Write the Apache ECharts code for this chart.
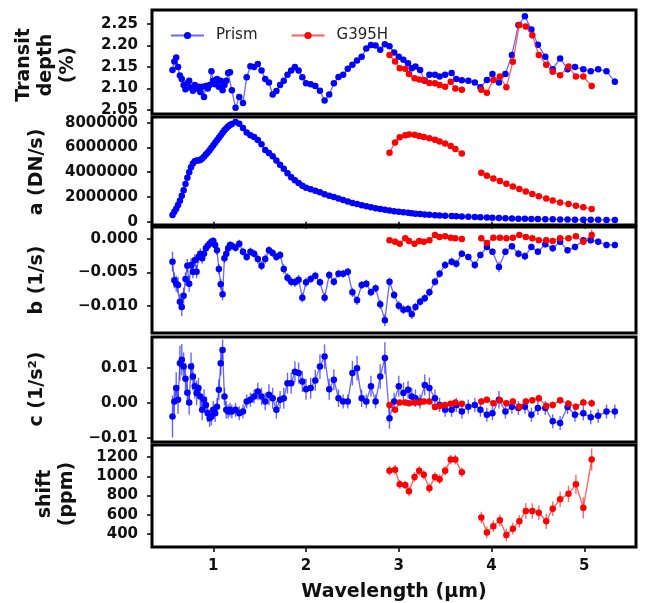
<!DOCTYPE html>
<html>
<head>
<meta charset="utf-8">
<script src="https://cdn.jsdelivr.net/npm/echarts@6/dist/echarts.min.js"></script>
<style>
  html, body { margin: 0; padding: 0; background: #fff; }
  #chart { width: 659px; height: 603px; }
</style>
</head>
<body>
<div id="chart"></div>
<script>
// ---- Prism (NIRSpec) spectrum, wavelength in µm ----
const wavePrism = [
  0.56,0.58,0.60,0.62,0.64,0.66,0.68,0.70,0.72,0.74,0.76,0.78,0.80,0.82,0.84,0.86,0.88,0.90,0.92,0.94,0.96,0.98,1.00,1.02,1.04,1.06,1.08,1.10,1.12,1.14,1.16,1.18,1.20,
  1.24,1.28,1.32,1.36,1.40,1.44,1.48,1.52,1.56,1.60,1.64,1.68,1.72,1.76,1.80,1.84,1.88,1.92,1.96,2.00,
  2.05,2.10,2.15,2.20,2.25,2.30,2.35,2.40,2.45,2.50,2.55,2.60,2.65,2.70,2.75,2.80,2.85,2.90,2.95,3.00,
  3.05,3.10,3.14,3.18,3.23,3.28,3.33,3.39,3.44,3.50,3.57,3.62,3.68,3.75,3.82,3.88,3.95,
  4.01,4.08,4.15,4.22,4.29,4.36,4.43,4.50,4.58,4.66,4.74,4.82,4.90,4.99,5.07,5.15,5.24,5.33
];
// transit depth (%)
const depthPrism = [
  2.143,2.163,2.172,2.150,2.130,2.122,2.108,2.098,2.112,2.118,2.102,2.095,2.108,2.100,2.104,2.092,2.104,2.080,2.106,2.100,2.108,2.140,2.118,2.110,2.122,2.104,2.118,2.096,2.108,2.118,2.136,2.138,2.096,
  2.055,2.080,2.066,2.126,2.152,2.150,2.157,2.142,2.122,2.114,2.086,2.094,2.108,2.118,2.132,2.142,2.150,2.142,2.126,2.112,
  2.110,2.106,2.095,2.072,2.086,2.112,2.127,2.132,2.146,2.155,2.165,2.174,2.193,2.201,2.200,2.190,2.203,2.198,2.184,2.174,
  2.167,2.159,2.147,2.151,2.143,2.118,2.132,2.132,2.128,2.132,2.136,2.122,2.119,2.118,2.114,2.103,2.120,
  2.134,2.114,2.134,2.178,2.248,2.268,2.237,2.202,2.174,2.145,2.170,2.145,2.150,2.145,2.140,2.145,2.140,2.116
];
const depthPrismErr = [
  0.004,0.004,0.004,0.004,0.004,0.004,0.004,0.004,0.004,0.004,0.004,0.004,0.004,0.004,0.004,0.004,0.004,0.004,0.004,0.004,0.004,0.004,0.004,0.004,0.004,0.004,0.004,0.004,0.004,0.004,0.004,0.004,0.004,
  0.003,0.003,0.003,0.003,0.003,0.003,0.003,0.003,0.003,0.003,0.003,0.003,0.003,0.003,0.003,0.003,0.003,0.003,0.003,0.003,
  0.003,0.003,0.003,0.003,0.003,0.003,0.003,0.003,0.003,0.003,0.003,0.003,0.003,0.003,0.003,0.003,0.003,0.003,0.003,0.003,
  0.003,0.003,0.003,0.003,0.003,0.003,0.003,0.003,0.003,0.003,0.003,0.003,0.003,0.003,0.003,0.003,0.004,
  0.004,0.004,0.004,0.004,0.004,0.004,0.004,0.004,0.004,0.004,0.004,0.005,0.005,0.005,0.005,0.006,0.006,0.008
];
// a coefficient (DN/s)
const aPrism = [
  550000,800000,1050000,1350000,1700000,2100000,2550000,3050000,3550000,4000000,4400000,4700000,4880000,4950000,4950000,4980000,5100000,5250000,5420000,5600000,5780000,5980000,6180000,6380000,6580000,6780000,6980000,7180000,7380000,7550000,7700000,7820000,7900000,
  8050000,7920000,7580000,7200000,6980000,6850000,6600000,6250000,5800000,5550000,5280000,4950000,4600000,4280000,3920000,3600000,3350000,3120000,2900000,2750000,
  2620000,2500000,2380000,2220000,2100000,2000000,1880000,1750000,1640000,1520000,1420000,1330000,1240000,1160000,1080000,1020000,960000,900000,850000,800000,
  760000,720000,680000,650000,620000,590000,560000,530000,500000,480000,460000,440000,420000,400000,370000,350000,330000,
  310000,290000,270000,260000,240000,230000,220000,210000,200000,190000,180000,170000,165000,160000,155000,150000,145000,140000
];
// b coefficient (1/s)
const bPrism = [
  -0.0034,-0.0062,-0.0067,-0.0069,-0.0094,-0.0102,-0.0085,-0.0060,-0.0040,-0.0067,-0.0039,-0.0049,-0.0032,-0.0049,-0.0027,-0.0022,-0.0029,-0.0022,-0.0014,-0.0010,-0.0007,-0.0004,-0.0003,-0.0009,-0.0017,-0.0045,-0.0068,-0.0083,-0.0029,-0.0022,-0.0014,-0.0009,-0.0010,
  -0.0013,-0.0007,-0.0019,-0.0027,-0.0019,-0.0022,-0.0030,-0.0040,-0.0030,-0.0017,-0.0021,-0.0027,-0.0024,-0.0045,-0.0058,-0.0064,-0.0065,-0.0061,-0.0088,-0.0065,
  -0.0060,-0.0055,-0.0065,-0.0088,-0.0054,-0.0064,-0.0052,-0.0052,-0.0049,-0.0080,-0.0092,-0.0069,-0.0067,-0.0080,-0.0074,-0.0098,-0.0122,-0.0064,-0.0084,-0.0100,
  -0.0106,-0.0105,-0.0113,-0.0102,-0.0094,-0.0089,-0.0080,-0.0064,-0.0052,-0.0039,-0.0034,-0.0037,-0.0022,-0.0027,-0.0039,-0.0024,-0.0012,
  -0.0019,-0.0042,-0.0019,-0.0011,-0.0022,-0.0026,-0.0012,-0.0019,-0.0008,-0.0014,-0.0004,-0.0017,-0.0012,-0.0002,-0.0002,-0.0004,-0.0009,-0.0009
];
const bPrismErr = [
  0.0015,0.0012,0.0012,0.0012,0.0012,0.0014,0.0012,0.0010,0.0010,0.0012,0.0010,0.0010,0.0009,0.0010,0.0009,0.0008,0.0008,0.0008,0.0007,0.0007,0.0006,0.0006,0.0006,0.0006,0.0007,0.0008,0.0008,0.0009,0.0007,0.0006,0.0006,0.0006,0.0006,
  0.0006,0.0006,0.0006,0.0006,0.0006,0.0006,0.0007,0.0007,0.0007,0.0006,0.0006,0.0006,0.0006,0.0007,0.0007,0.0007,0.0007,0.0007,0.0007,0.0007,
  0.0006,0.0006,0.0006,0.0007,0.0006,0.0006,0.0006,0.0006,0.0006,0.0007,0.0007,0.0006,0.0006,0.0006,0.0006,0.0007,0.0009,0.0006,0.0006,0.0007,
  0.0007,0.0006,0.0007,0.0006,0.0006,0.0006,0.0006,0.0006,0.0006,0.0006,0.0006,0.0006,0.0005,0.0005,0.0006,0.0005,0.0005,
  0.0005,0.0008,0.0005,0.0005,0.0006,0.0006,0.0005,0.0005,0.0005,0.0005,0.0005,0.0005,0.0005,0.0005,0.0005,0.0005,0.0005,0.0005
];
// c coefficient (1/s^2)
const cPrism = [
  -0.0038,0.0005,0.0043,0.0010,0.0114,0.0124,0.0105,0.0070,0.0030,0.0002,0.0105,0.0076,0.0048,0.0029,0.0043,0.0019,-0.0019,0.0010,-0.0005,-0.0029,-0.0043,-0.0038,-0.0019,-0.0029,-0.0010,0.0038,0.0114,0.0152,0.0019,-0.0019,-0.0024,-0.0019,-0.0024,
  -0.0019,-0.0029,-0.0024,0.0005,0.0010,0.0019,0.0033,0.0019,0.0005,0.0024,0.0014,-0.0019,0.0010,0.0014,0.0057,0.0057,0.0090,0.0086,0.0062,0.0040,
  0.0043,0.0065,0.0105,0.0133,0.0040,0.0067,0.0014,0.0005,0.0005,0.0086,0.0100,0.0014,0.0005,0.0048,0.0005,0.0076,0.0129,-0.0043,0.0005,0.0048,
  0.0029,0.0038,0.0019,0.0014,0.0005,0.0052,0.0043,0.0014,-0.0005,-0.0019,-0.0019,-0.0005,-0.0024,-0.0010,-0.0005,-0.0019,-0.0033,
  -0.0029,0.0010,-0.0024,-0.0010,-0.0014,-0.0010,-0.0033,-0.0014,-0.0014,-0.0052,-0.0057,-0.0011,-0.0033,-0.0029,-0.0040,-0.0036,-0.0024,-0.0024
];
const cPrismErr = [
  0.0060,0.0040,0.0045,0.0040,0.0050,0.0045,0.0040,0.0045,0.0035,0.0035,0.0040,0.0040,0.0035,0.0035,0.0030,0.0030,0.0030,0.0030,0.0025,0.0025,0.0025,0.0025,0.0025,0.0025,0.0025,0.0030,0.0035,0.0030,0.0025,0.0025,0.0020,0.0020,0.0020,
  0.0020,0.0020,0.0020,0.0020,0.0020,0.0020,0.0025,0.0025,0.0025,0.0030,0.0030,0.0025,0.0025,0.0030,0.0030,0.0030,0.0030,0.0030,0.0030,0.0030,
  0.0030,0.0030,0.0035,0.0035,0.0030,0.0030,0.0025,0.0020,0.0020,0.0035,0.0035,0.0025,0.0020,0.0030,0.0020,0.0035,0.0045,0.0030,0.0025,0.0030,
  0.0030,0.0025,0.0025,0.0025,0.0020,0.0030,0.0030,0.0025,0.0020,0.0020,0.0020,0.0020,0.0020,0.0020,0.0020,0.0020,0.0020,
  0.0020,0.0025,0.0020,0.0020,0.0020,0.0020,0.0020,0.0020,0.0020,0.0020,0.0020,0.0020,0.0020,0.0020,0.0020,0.0020,0.0020,0.0020
];

// ---- G395H spectrum: NRS1 (first 15 points) then NRS2 ----
const nrs1Count = 15;
const waveG395H = [
  2.90,2.96,3.01,3.07,3.11,3.17,3.22,3.27,3.33,3.39,3.44,3.50,3.56,3.61,3.68,
  3.89,3.95,4.02,4.09,4.16,4.23,4.30,4.37,4.44,4.51,4.59,4.66,4.74,4.83,4.91,4.99,5.08
];
const depthG395H = [
  2.178,2.163,2.147,2.146,2.134,2.124,2.121,2.119,2.113,2.112,2.108,2.104,2.116,2.100,2.097,
  2.097,2.090,2.120,2.128,2.103,2.162,2.248,2.244,2.224,2.178,2.155,2.139,2.131,2.151,2.128,2.128,2.106
];
const depthG395HErr = [
  0.003,0.003,0.003,0.003,0.003,0.003,0.003,0.003,0.003,0.003,0.003,0.003,0.003,0.003,0.003,
  0.003,0.003,0.003,0.003,0.003,0.003,0.003,0.003,0.003,0.003,0.003,0.003,0.003,0.003,0.003,0.003,0.003
];
const aG395H = [
  5580000,6400000,6820000,6980000,7050000,7030000,6920000,6850000,6750000,6620000,6480000,6320000,6120000,5880000,5520000,
  3960000,3720000,3500000,3280000,3060000,2840000,2640000,2440000,2240000,2060000,1880000,1720000,1560000,1420000,1280000,1160000,1030000
];
const bG395H = [
  -0.0002,-0.0004,-0.0007,0.0001,-0.0003,-0.0007,-0.0003,-0.0004,-0.0002,0.0006,0.0003,0.0004,0.0002,0.0001,0.0000,
  0.0001,-0.0006,0.0002,0.0002,0.0001,0.0002,0.0006,0.0003,0.0001,-0.0002,-0.0002,-0.0003,0.0001,0.0001,0.0004,-0.0004,0.0006
];
const bG395HErr = [
  0.0003,0.0003,0.0003,0.0003,0.0003,0.0003,0.0003,0.0003,0.0003,0.0003,0.0003,0.0003,0.0003,0.0003,0.0003,
  0.0003,0.0003,0.0003,0.0003,0.0003,0.0003,0.0003,0.0003,0.0003,0.0003,0.0003,0.0003,0.0003,0.0004,0.0004,0.0005,0.0008
];
const cG395H = [
  -0.0005,-0.0019,0.0002,0.0002,0.0000,0.0002,0.0002,0.0005,0.0005,-0.0011,-0.0008,-0.0005,-0.0002,0.0002,-0.0002,
  0.0005,0.0010,0.0000,0.0008,0.0000,0.0005,-0.0010,0.0005,0.0008,0.0014,-0.0008,-0.0005,0.0008,-0.0002,-0.0010,0.0002,0.0000
];
const cG395HErr = [
  0.0008,0.0008,0.0008,0.0008,0.0008,0.0008,0.0008,0.0008,0.0008,0.0008,0.0008,0.0008,0.0008,0.0008,0.0008,
  0.0009,0.0009,0.0009,0.0009,0.0009,0.0009,0.0009,0.0009,0.0009,0.0010,0.0010,0.0010,0.0010,0.0010,0.0010,0.0011,0.0011
];
// spectral shift (ppm)
const shiftG395H = [
  1058,1068,917,910,844,993,1058,1016,877,993,970,1058,1174,1174,1042,
  571,417,482,542,390,456,532,640,640,621,532,663,762,818,917,673,1174
];
const shiftG395HErr = [
  50,50,45,45,50,50,50,50,50,50,50,50,50,50,50,
  60,60,60,60,65,60,65,80,80,75,80,75,80,85,100,110,115
];

// ---- axis ticks ----
const xTicks = [1, 2, 3, 4, 5];
const depthTicks = [2.05, 2.10, 2.15, 2.20, 2.25];
const aTicks = [0, 2000000, 4000000, 6000000, 8000000];
const bTicks = [-0.010, -0.005, 0.000];
const cTicks = [-0.01, 0.00, 0.01];
const shiftTicks = [400, 600, 800, 1000, 1200];

const BLUE = '#0000ff';
const RED = '#ff0000';
const FONT = '"DejaVu Sans", Verdana, sans-serif';

const minus = (s) => s.replace('-', '\u2212');

const panels = [
  { top: 10,  height: 104, min: 2.0407, max: 2.2826, ticks: depthTicks, fmt: v => v.toFixed(2) },
  { top: 117, height: 108, min: -267000, max: 8460000, ticks: aTicks, fmt: v => String(Math.round(v)) },
  { top: 227, height: 106, min: -0.0141, max: 0.0018, ticks: bTicks, fmt: v => (Math.abs(v) < 1e-9 ? '0.000' : minus(v.toFixed(3))) },
  { top: 337, height: 105, min: -0.0111, max: 0.0189, ticks: cTicks, fmt: v => (Math.abs(v) < 1e-9 ? '0.00' : minus(v.toFixed(2))) },
  { top: 445, height: 107, min: 265, max: 1326, ticks: shiftTicks, fmt: v => String(Math.round(v)) }
];

const grids = panels.map(p => ({
  left: 152, width: 484, top: p.top, height: p.height,
  show: true, borderColor: '#000', borderWidth: 3, backgroundColor: 'transparent'
}));

const xAxes = panels.map((p, i) => ({
  type: 'value', gridIndex: i, min: 0.339, max: 5.558,
  axisLine: { show: false },
  splitLine: { show: false },
  axisTick: {
    show: i === 1 || i === 4, inside: false, length: i === 1 ? 7 : 5,
    customValues: xTicks, lineStyle: { color: '#000', width: 1.5 }
  },
  axisLabel: {
    show: i === 4, customValues: xTicks, margin: 12,
    color: '#111', fontFamily: FONT, fontWeight: 'bold', fontSize: 15,
    formatter: v => String(Math.round(v))
  },
  name: i === 4 ? 'Wavelength (µm)' : '',
  nameLocation: 'middle', nameGap: 36,
  nameTextStyle: { color: '#111', fontFamily: FONT, fontWeight: 'bold', fontSize: 19 }
}));

const yAxes = panels.map((p, i) => ({
  type: 'value', gridIndex: i, min: p.min, max: p.max,
  axisLine: { show: false },
  splitLine: { show: false },
  axisTick: { show: true, inside: false, length: 5, customValues: p.ticks, lineStyle: { color: '#000', width: 1.5 } },
  axisLabel: {
    customValues: p.ticks, margin: 14,
    color: '#111', fontFamily: FONT, fontWeight: 'bold', fontSize: 15,
    formatter: p.fmt
  }
}));

// points joined by a line; a gap is left between the two G395H detectors
function lineSeries(name, xs, ys, color, lineColor, gi, z, breakAt) {
  const data = [];
  xs.forEach((x, k) => {
    if (breakAt && k === breakAt) data.push([(xs[k - 1] + x) / 2, '-']);
    data.push([x, ys[k]]);
  });
  return {
    type: 'line', name, xAxisIndex: gi, yAxisIndex: gi, data,
    symbol: 'circle', symbolSize: 6.5, showSymbol: true, connectNulls: false,
    itemStyle: { color }, lineStyle: { color: lineColor, width: 1.3 },
    emphasis: { disabled: true }, z, animation: false, clip: true
  };
}

// vertical error bars drawn through the axis scales
function errorSeries(name, xs, ys, es, color, gi, z) {
  return {
    type: 'custom', name, xAxisIndex: gi, yAxisIndex: gi, z, silent: true,
    clip: true, animation: false,
    encode: { x: 0, y: [1, 2] },
    data: xs.map((x, k) => [x, ys[k] - es[k], ys[k] + es[k]]),
    renderItem(params, api) {
      const p1 = api.coord([api.value(0), api.value(1)]);
      const p2 = api.coord([api.value(0), api.value(2)]);
      return {
        type: 'line',
        shape: { x1: p1[0], y1: p1[1], x2: p2[0], y2: p2[1] },
        style: { stroke: color, lineWidth: 1.4, opacity: 0.6 }
      };
    }
  };
}

const blueLine = 'rgba(40,40,255,0.7)';
const redLine = 'rgba(255,40,40,0.75)';

const series = [
  // transit depth
  lineSeries('Prism', wavePrism, depthPrism, BLUE, blueLine, 0, 3),
  lineSeries('G395H', waveG395H, depthG395H, RED, redLine, 0, 5, nrs1Count),
  errorSeries('Prism err', wavePrism, depthPrism, depthPrismErr, BLUE, 0, 2),
  errorSeries('G395H err', waveG395H, depthG395H, depthG395HErr, RED, 0, 4),
  // a
  lineSeries('Prism', wavePrism, aPrism, BLUE, blueLine, 1, 3),
  lineSeries('G395H', waveG395H, aG395H, RED, redLine, 1, 5, nrs1Count),
  // b
  lineSeries('Prism', wavePrism, bPrism, BLUE, blueLine, 2, 3),
  lineSeries('G395H', waveG395H, bG395H, RED, redLine, 2, 5, nrs1Count),
  errorSeries('Prism err', wavePrism, bPrism, bPrismErr, BLUE, 2, 2),
  errorSeries('G395H err', waveG395H, bG395H, bG395HErr, RED, 2, 4),
  // c
  lineSeries('Prism', wavePrism, cPrism, BLUE, blueLine, 3, 3),
  lineSeries('G395H', waveG395H, cG395H, RED, redLine, 3, 5, nrs1Count),
  errorSeries('Prism err', wavePrism, cPrism, cPrismErr, BLUE, 3, 2),
  errorSeries('G395H err', waveG395H, cG395H, cG395HErr, RED, 3, 4),
  // shift
  lineSeries('G395H', waveG395H, shiftG395H, RED, redLine, 4, 5, nrs1Count),
  errorSeries('G395H err', waveG395H, shiftG395H, shiftG395HErr, RED, 4, 4)
];

const titleFont = 'bold 19px ' + FONT;
const yTitle = (text, x, y) => ({
  type: 'text', x, y, rotation: Math.PI / 2, silent: true,
  style: {
    text, font: titleFont, fill: '#111',
    textAlign: 'center', textVerticalAlign: 'middle',
    align: 'center', verticalAlign: 'middle', lineHeight: 22
  }
});

const chart = echarts.init(document.getElementById('chart'), null, { renderer: 'canvas' });
chart.setOption({
  animation: false,
  backgroundColor: '#fff',
  grid: grids,
  xAxis: xAxes,
  yAxis: yAxes,
  legend: {
    data: ['Prism', 'G395H'],
    left: 165, top: 23,
    itemWidth: 33, itemHeight: 9, itemGap: 33,
    selectedMode: false,
    textStyle: { fontSize: 15, fontFamily: FONT, color: '#222', padding: [0, 0, 0, 7] }
  },
  series,
  graphic: [
    yTitle('Transit\ndepth\n(%)', 46, 65),
    yTitle('a (DN/s)', 37, 172),
    yTitle('b (1/s)', 37, 280),
    yTitle('c (1/s²)', 37, 389),
    yTitle('shift\n(ppm)', 56, 494)
  ]
});
</script>
</body>
</html>
